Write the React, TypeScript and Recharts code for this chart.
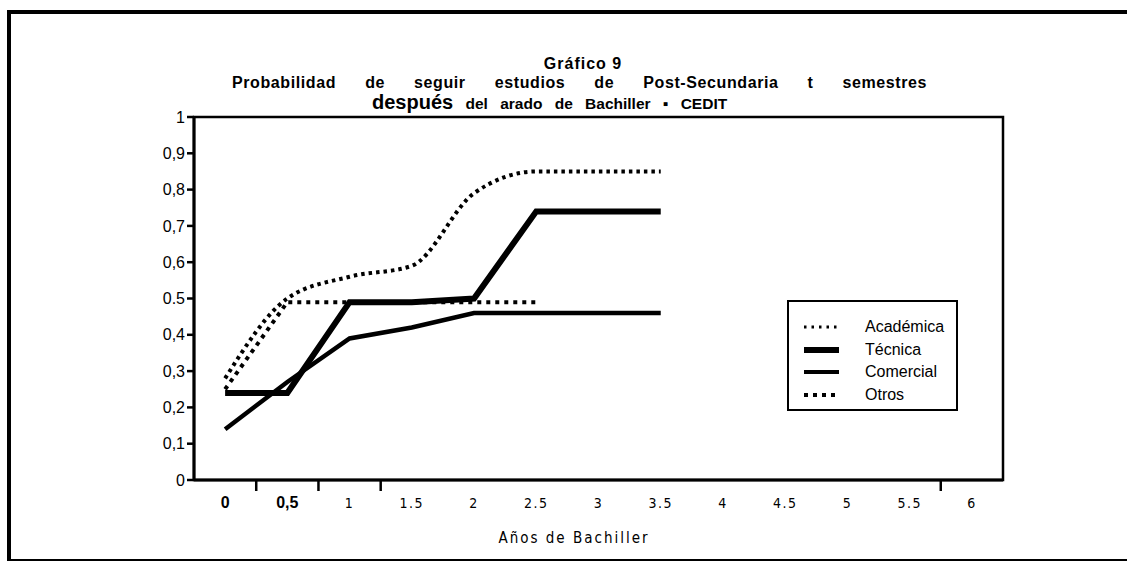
import React from 'react'
import { LineChart, Line, XAxis, YAxis, Legend, ReferenceArea } from 'recharts'

const categories = ['0', '0,5', '1', '1.5', '2', '2.5', '3', '3.5', '4', '4.5', '5', '5.5', '6']
const academica = [0.28, 0.5, 0.56, 0.59, 0.79, 0.85, 0.85, 0.85]
const tecnica = [0.24, 0.24, 0.49, 0.49, 0.5, 0.74, 0.74, 0.74]
const comercial = [0.14, 0.27, 0.39, 0.42, 0.46, 0.46, 0.46, 0.46]
const otros = [0.25, 0.49, 0.49, 0.49, 0.49, 0.49]

const yTicks = [0, 0.1, 0.2, 0.3, 0.4, 0.5, 0.6, 0.7, 0.8, 0.9, 1]
const yTickLabels = ['0', '0,1', '0,2', '0,3', '0,4', '0.5', '0,6', '0,7', '0,8', '0,9', '1']
// the scan only shows a few of the x tick marks (at band boundaries)
const markedTicks = [1, 2, 3, 12]

const data = categories.map((cat, i) => ({
  cat,
  academica: academica[i],
  tecnica: tecnica[i],
  comercial: comercial[i],
  otros: otros[i],
}))

const series = [
  { key: 'academica', name: 'Académica', width: 4, dash: '3.5 4', legendWidth: 3, legendDash: '2.5 5', curve: 'monotone' },
  { key: 'tecnica', name: 'Técnica', width: 6, dash: undefined, legendWidth: 6, legendDash: undefined, curve: 'linear' },
  { key: 'comercial', name: 'Comercial', width: 4.5, dash: undefined, legendWidth: 4, legendDash: undefined, curve: 'linear' },
  { key: 'otros', name: 'Otros', width: 4, dash: '4 5', legendWidth: 4, legendDash: '4 5', curve: 'linear' },
]

const SANS = "'Liberation Sans', Arial, sans-serif"
const NARROW = "'Liberation Sans Narrow', 'DejaVu Sans Condensed', 'Liberation Sans', sans-serif"

function XTick(props: any) {
  const { x, y, payload, index, width } = props
  const band = width / categories.length
  const axisY = y - 8
  const big = index < 2
  return (
    <g>
      {markedTicks.includes(index) && (
        <line x1={x - band / 2} x2={x - band / 2} y1={axisY} y2={axisY + 11} stroke="#000" strokeWidth={2.5} />
      )}
      <text
        x={x}
        y={y}
        dy={20}
        textAnchor="middle"
        fill="#000"
        fontFamily={big ? SANS : NARROW}
        fontWeight={big ? 700 : 400}
        fontSize={big ? 16 : 14}
        letterSpacing={big ? 0 : 1.5}
      >
        {payload.value}
      </text>
    </g>
  )
}

function LegendBox() {
  return (
    <div
      style={{
        width: 171,
        height: 111,
        border: '2px solid #000',
        background: '#fff',
        fontFamily: SANS,
        fontSize: 16,
        color: '#000',
        paddingTop: 14,
        boxSizing: 'border-box',
      }}
    >
      {series.map((s) => (
        <div key={s.key} style={{ display: 'flex', alignItems: 'center', height: 22.5 }}>
          <svg width={76} height={14} style={{ flex: 'none' }}>
            <line
              x1={15}
              x2={50}
              y1={7}
              y2={7}
              stroke="#000"
              strokeWidth={s.legendWidth}
              strokeDasharray={s.legendDash}
            />
          </svg>
          <span>{s.name}</span>
        </div>
      ))}
    </div>
  )
}

export default function App() {
  return (
    <div
      style={{
        position: 'absolute',
        left: 0,
        top: 0,
        width: 1127,
        height: 563,
        background: '#fff',
        overflow: 'hidden',
      }}
    >
      {/* scanned page frame */}
      <div style={{ position: 'absolute', left: 7, top: 10, width: 1120, height: 4, background: '#000' }} />
      <div style={{ position: 'absolute', left: 7, top: 10, width: 4, height: 551, background: '#000' }} />
      <div style={{ position: 'absolute', left: 7, top: 559, width: 1120, height: 2, background: '#000' }} />

      <div
        style={{
          position: 'absolute',
          left: 0,
          width: 1166,
          top: 54,
          textAlign: 'center',
          fontFamily: SANS,
          fontWeight: 700,
          fontSize: 16,
          letterSpacing: 1,
          lineHeight: '20px',
          color: '#000',
          zIndex: 2,
        }}
      >
        Gráfico 9
      </div>
      <div
        style={{
          position: 'absolute',
          left: 232,
          top: 73,
          fontFamily: SANS,
          fontWeight: 700,
          fontSize: 16,
          letterSpacing: 0.6,
          wordSpacing: 24,
          lineHeight: '20px',
          whiteSpace: 'nowrap',
          color: '#000',
          zIndex: 2,
        }}
      >
        Probabilidad de seguir estudios de Post-Secundaria t semestres
      </div>
      <div
        style={{
          position: 'absolute',
          left: 372,
          top: 93,
          fontFamily: SANS,
          fontWeight: 700,
          fontSize: 15.5,
          lineHeight: '19px',
          whiteSpace: 'nowrap',
          wordSpacing: 8,
          color: '#000',
          zIndex: 2,
        }}
      >
        <span style={{ fontSize: 20, wordSpacing: 0 }}>después</span> del arado de Bachiller ▪ CEDIT
      </div>

      <div
        style={{
          position: 'absolute',
          left: 0,
          width: 1148,
          top: 527,
          textAlign: 'center',
          fontFamily: NARROW,
          fontSize: 15,
          letterSpacing: 2,
          lineHeight: '22px',
          color: '#000',
          zIndex: 2,
        }}
      >
        Años de Bachiller
      </div>

      <div style={{ position: 'absolute', left: 0, top: 0 }}>
        <LineChart
          width={1127}
          height={563}
          data={data}
          margin={{ top: 117, right: 124, bottom: 43, left: 134 }}
        >
          <XAxis
            dataKey="cat"
            type="category"
            scale="band"
            interval={0}
            height={40}
            tickLine={false}
            axisLine={{ stroke: '#000', strokeWidth: 3 }}
            tick={<XTick />}
          />
          <YAxis
            type="number"
            domain={[0, 1]}
            ticks={yTicks}
            width={60}
            interval={0}
            tickFormatter={(v: number, i: number) => yTickLabels[i]}
            tick={{ fontSize: 16, fill: '#000', fontFamily: SANS }}
            tickLine={{ stroke: '#000', strokeWidth: 2.5 }}
            tickSize={7}
            tickMargin={2}
            axisLine={{ stroke: '#000', strokeWidth: 3 }}
          />
          {/* plot frame (top and right edges) */}
          <ReferenceArea
            y1={0}
            y2={1}
            fill="none"
            stroke="#000"
            strokeWidth={2.5}
            ifOverflow="visible"
          />
          {series.map((s) => (
            <Line
              key={s.key}
              dataKey={s.key}
              name={s.name}
              type={s.curve as any}
              stroke="#000"
              strokeWidth={s.width}
              strokeDasharray={s.dash}
              dot={false}
              activeDot={false}
              isAnimationActive={false}
            />
          ))}
          <Legend
            layout="vertical"
            align="center"
            verticalAlign="middle"
            wrapperStyle={{ left: 787, top: 300, width: 175 }}
            content={<LegendBox />}
          />
        </LineChart>
      </div>
    </div>
  )
}
